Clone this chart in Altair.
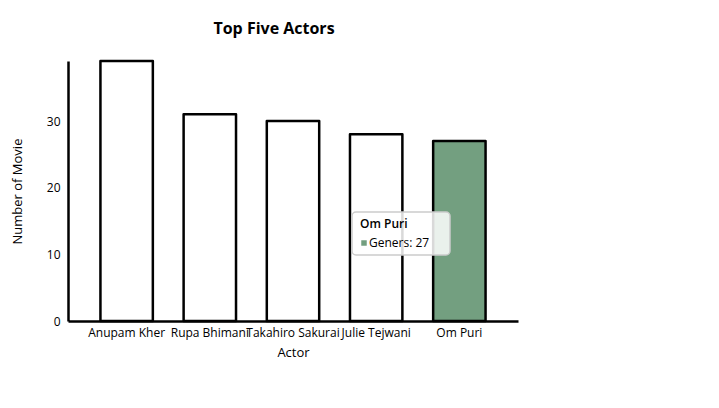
import altair as alt
import pandas as pd

# data
actors = ["Anupam Kher", "Rupa Bhimani", "Takahiro Sakurai", "Julie Tejwani", "Om Puri"]
movies = [39, 31, 30, 28, 27]
highlighted = "Om Puri"

FONT = "Open Sans"

df = pd.DataFrame({"Actor": actors, "Movies": movies})
df["hl"] = df["Actor"] == highlighted

tip = pd.DataFrame({
    "name": [highlighted],
    "label": ["Geners: " + str(movies[actors.index(highlighted)])],
})

x = alt.X(
    "Actor:N",
    sort=actors,
    title="Actor",
    scale=alt.Scale(paddingInner=0.37, paddingOuter=0.39),
    axis=alt.Axis(labelAngle=0, ticks=False, labelFontSize=12, labelPadding=6,
                  titleFontSize=13, titlePadding=8, labelOverlap=False),
)
y = alt.Y(
    "Movies:Q",
    title="Number of Movie",
    scale=alt.Scale(domain=[0, 39], nice=False),
    axis=alt.Axis(values=[0, 10, 20, 30], ticks=False, grid=False, labelFontSize=12,
                  labelPadding=8, titleFontSize=13, titlePadding=22),
)

bars = alt.Chart(df).mark_bar(stroke="black", strokeWidth=2.5, strokeJoin="round").encode(
    x=x,
    y=y,
    fill=alt.condition("datum.hl", alt.value("#739f80"), alt.value("white")),
)

# the tooltip box shown over the highlighted bar
box = alt.Chart(tip).mark_rect(
    fill="white", fillOpacity=0.85, stroke="#cccccc", strokeWidth=1.5, cornerRadius=4
).encode(x=alt.value(284), x2=alt.value(382), y=alt.value(151), y2=alt.value(194))

tip_title = alt.Chart(tip).mark_text(
    align="left", baseline="middle", font=FONT, fontSize=12, fontWeight=600
).encode(x=alt.value(292), y=alt.value(163), text="name:N")

tip_dot = alt.Chart(tip).mark_square(size=30, color="#739f80", opacity=1).encode(
    x=alt.value(296), y=alt.value(182)
)

tip_text = alt.Chart(tip).mark_text(
    align="left", baseline="middle", font=FONT, fontSize=12
).encode(x=alt.value(301), y=alt.value(182), text="label:N")

chart = alt.layer(bars, box, tip_title, tip_dot, tip_text).properties(
    width=450,
    height=260,
    title=alt.Title("Top Five Actors", fontSize=16, font=FONT, fontWeight="bold",
                    anchor="middle", dx=-19, offset=23),
    autosize=alt.AutoSizeParams(type="none"),
    padding={"left": 60, "top": 53, "right": 100, "bottom": 60},
).configure_view(
    stroke=None
).configure_axis(
    domainColor="black",
    domainWidth=2.5,
    labelColor="black",
    titleColor="black",
    labelFont=FONT,
    titleFont=FONT,
    titleFontWeight="normal",
)

chart.save("out.html", embed_options={"renderer": "svg", "actions": False})
